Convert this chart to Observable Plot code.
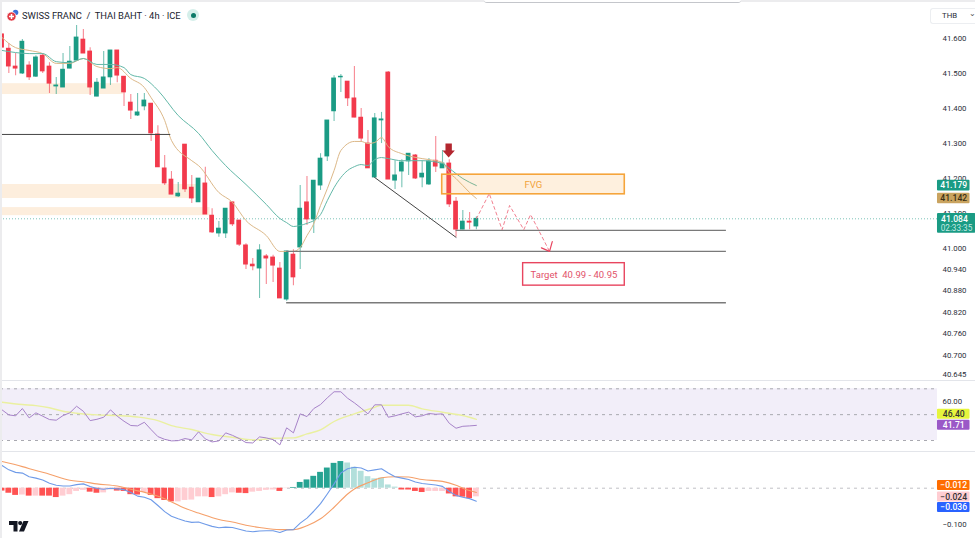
<!DOCTYPE html>
<html><head><meta charset="utf-8">
<script src="https://cdn.jsdelivr.net/npm/d3@7"></script>
<script src="https://cdn.jsdelivr.net/npm/@observablehq/plot@0.6"></script>
<style>
html,body{margin:0;padding:0;background:#fff;width:975px;height:538px;overflow:hidden;font-family:Roboto,sans-serif}
.pane{position:absolute;left:0}
.pane svg{display:block;overflow:visible;background:transparent}
#topband{position:absolute;left:0;top:0;width:975px;height:2px;background:#ececee}
#tab{position:absolute;left:484px;top:0;width:257px;height:2px;background:#fff;border-bottom:1px solid #c4c6cb;border-radius:0 0 3px 3px}
#leftband{position:absolute;left:0;top:0;width:1.5px;height:538px;background:#ececee}
.sep{position:absolute;left:0;width:975px;height:1px;background:#e3e5ea}
#title{position:absolute;left:22px;top:8.5px;font-size:9.4px;line-height:13px;color:#20242f;white-space:pre}
#flag{position:absolute;left:6px;top:9px}
#dot{position:absolute;left:187px;top:9px;width:12px;height:12px;border-radius:6px;background:#d5efea}
#dot:after{content:"";position:absolute;left:3.5px;top:3.5px;width:5px;height:5px;border-radius:3px;background:#0b7a68}
#thb{position:absolute;left:930px;top:7.5px;width:45px;height:16px;border:1px solid #eceef1;border-right:0;box-sizing:border-box;border-radius:3px 0 0 3px;font-size:7.8px;line-height:14px;color:#2a2e39;padding-left:11px}
#thb:after{content:"⌄";position:absolute;left:38px;top:-2px;font-size:8px;color:#555}
#logo{position:absolute;left:9px;top:521px}
</style></head><body>
<div id="main" class="pane" style="top:0"></div>
<div id="rsi" class="pane" style="top:381px"></div>
<div id="macd" class="pane" style="top:452px"></div>
<div class="sep" style="top:380px"></div>
<div class="sep" style="top:451px"></div>
<div id="topband"></div><div id="tab"></div><div id="leftband"></div>
<svg id="flag" width="14" height="14" viewBox="0 0 14 14"><circle cx="9.5" cy="3.5" r="2.8" fill="#3b6fd8"/><circle cx="5.5" cy="7.5" r="4.6" fill="#e23b46" stroke="#fff" stroke-width=".8"/><path d="M5.5 5v5M3 7.5h5" stroke="#fff" stroke-width="1.5"/></svg>
<div id="title">SWISS FRANC  /  THAI BAHT · 4h · ICE</div>
<div id="dot"></div>
<div id="thb">THB</div>
<svg id="logo" width="20" height="11" viewBox="0 0 20 11"><path d="M0 0h8.5v10.5h-4V4H0zM10 10.5L14.5 0H19.5L15 10.5z" fill="#131722"/><circle cx="11.2" cy="2.1" r="2.1" fill="#131722"/></svg>

<script>
// ---------- candles (71 bars of 4h) ----------
const open=[41.611,41.570,41.519,41.499,41.522,41.490,41.550,41.519,41.462,41.459,41.513,41.536,41.596,41.562,41.433,41.456,41.488,41.565,41.490,41.416,41.379,41.405,41.413,41.325,41.228,41.196,41.148,41.296,41.173,41.131,41.185,41.093,41.042,41.042,41.131,41.079,41.008,40.954,40.943,40.977,40.974,40.943,40.856,40.982,41.002,41.131,41.082,41.179,41.262,41.391,41.488,41.476,41.428,41.373,41.299,41.202,41.365,41.502,41.193,41.219,41.248,41.265,41.202,41.182,41.250,41.228,41.242,41.133,41.053,41.076,41.062];
const close=[41.573,41.519,41.513,41.590,41.488,41.545,41.505,41.470,41.465,41.510,41.533,41.602,41.556,41.459,41.473,41.488,41.565,41.493,41.445,41.393,41.388,41.422,41.328,41.231,41.185,41.153,41.156,41.168,41.142,41.199,41.096,41.045,41.056,41.113,41.068,41.010,40.954,40.949,40.994,40.971,40.951,40.859,40.991,40.918,41.113,41.082,41.193,41.256,41.365,41.485,41.490,41.428,41.373,41.313,41.228,41.371,41.368,41.196,41.208,41.245,41.270,41.199,41.213,41.248,41.233,41.242,41.125,41.053,41.076,41.073,41.084];
const high=[41.611,41.585,41.556,41.596,41.533,41.550,41.556,41.530,41.488,41.556,41.576,41.636,41.625,41.573,41.485,41.562,41.565,41.565,41.490,41.439,41.442,41.442,41.413,41.350,41.265,41.219,41.188,41.296,41.208,41.199,41.231,41.113,41.076,41.113,41.131,41.079,41.013,40.971,41.010,40.982,40.980,40.960,40.991,40.996,41.179,41.205,41.193,41.270,41.365,41.493,41.496,41.476,41.519,41.399,41.336,41.385,41.388,41.505,41.250,41.253,41.270,41.268,41.250,41.256,41.319,41.279,41.253,41.145,41.108,41.102,41.090];
const low=[41.573,41.499,41.493,41.496,41.479,41.488,41.499,41.442,41.439,41.459,41.513,41.536,41.556,41.436,41.433,41.456,41.465,41.473,41.405,41.368,41.376,41.393,41.305,41.231,41.179,41.153,41.145,41.159,41.128,41.131,41.096,41.042,41.031,41.028,41.062,41.005,40.940,40.937,40.859,40.898,40.904,40.859,40.851,40.895,40.940,41.065,41.042,41.165,41.248,41.362,41.445,41.405,41.373,41.302,41.228,41.199,41.299,41.196,41.168,41.173,41.208,41.196,41.173,41.179,41.216,41.228,41.116,41.031,41.053,41.053,41.053];

// ---------- moving averages ----------
const fastBars=[0,2,4,6,8,10,12,14,16,17,19,21,22,24,25,28,29,32,34,36,39,41,43,44,45,46,47,48,49,50,52,53,54,55,56,57,59,62,64,65,66,67,69,70];
const fastVals=[41.602,41.573,41.565,41.556,41.528,41.528,41.542,41.519,41.513,41.516,41.485,41.459,41.430,41.365,41.308,41.250,41.236,41.159,41.131,41.079,41.036,40.991,40.991,41.002,41.036,41.070,41.122,41.170,41.222,41.279,41.305,41.305,41.299,41.302,41.316,41.290,41.270,41.256,41.250,41.245,41.216,41.199,41.159,41.142];
const slowBars=[0,2,4,6,8,10,12,14,16,18,19,21,23,26,29,31,33,36,39,41,42,43,44,45,46,47,48,49,50,51,52,53,54,55,56,57,59,62,65,66,68,70];
const slowVals=[41.565,41.559,41.556,41.556,41.533,41.530,41.542,41.525,41.525,41.516,41.496,41.485,41.451,41.379,41.328,41.279,41.236,41.182,41.125,41.085,41.073,41.062,41.065,41.071,41.079,41.096,41.136,41.173,41.202,41.222,41.233,41.239,41.236,41.253,41.259,41.256,41.250,41.250,41.242,41.228,41.199,41.179];

// ---------- price-axis ticks ----------
const priceTicks=[41.6,41.5,41.4,41.3,41.2,41.1,41.0,40.94,40.88,40.82,40.76,40.70,40.645];
const rsiTicks=[60];
const macdTicks=[-0.1];

// ---------- RSI pane ----------
const rsi=[53.7,49.8,49.1,54.7,47.5,51.4,48.8,46.2,45.7,49.3,51.4,56.5,52.6,45.4,46.4,48,53.7,48.8,44.9,41.6,41.3,44.1,38.4,33,30.9,29.7,29.9,31.5,30.5,36.7,31.2,28.9,29.7,35.9,34,31.5,28.4,28.1,32.8,32,30.7,26.6,39.8,35.9,50.6,48.5,54.7,57.8,63,67.7,67.7,62.7,59.1,55,50.6,57.6,57.6,48,49.1,50.6,51.9,48.3,49.1,50.9,50.3,50.6,43.3,39.5,41,41.3,41.71];
const rsiMaBars=[0,3,5,7,9,11,14,17,20,23,25,28,31,34,37,38,40,43,45,47,49,52,55,56,60,62,65,68,70];
const rsiMaVals=[59.6,57.8,57,55.3,52.6,51.1,49.8,49.3,48.2,45.4,41.5,38.5,34.6,32.5,30.5,30.7,31.7,32,35.1,38.2,44.7,50.6,55.7,57.3,57.3,54.5,51.9,49.3,46.4];
const rsiLevels=[70,50,30];

// ---------- MACD pane ----------
const macd=[.063,.051,.044,.042,.032,.028,.023,.014,.008,.006,.006,.010,.012,.005,-.001,-.003,0,-.002,-.004,-.012,-.022,-.025,-.032,-.048,-.065,-.078,-.085,-.091,-.095,-.094,-.100,-.106,-.110,-.108,-.109,-.114,-.119,-.121,-.119,-.118,-.118,-.123,-.116,-.115,-.097,-.083,-.064,-.043,-.016,.012,.042,.054,.058,.056,.048,.051,.054,.042,.032,.028,.024,.017,.013,.011,.009,.005,-.009,-.020,-.025,-.029,-.036];
const signalBars=[0,3,5,7,10,12,14,17,19,22,24,27,29,32,34,36,38,41,43,45,47,49,51,52,54,56,58,60,62,65,67,68,70];
const signalVals=[.074,.060,.049,.039,.022,.018,.012,.006,-.003,-.016,-.029,-.056,-.069,-.087,-.094,-.103,-.109,-.115,-.115,-.104,-.085,-.053,-.016,-.002,.015,.029,.032,.031,.024,.019,.008,0,-.012];
const hist=[-.008,-.014,-.020,-.019,-.022,-.022,-.022,-.022,-.026,-.022,-.018,-.009,-.006,-.011,-.014,-.013,-.005,-.008,-.009,-.018,-.019,-.012,-.020,-.029,-.034,-.038,-.038,-.034,-.033,-.024,-.024,-.026,-.024,-.018,-.013,-.014,-.015,-.011,-.009,-.006,-.005,-.009,-.001,.002,.016,.023,.033,.044,.056,.069,.074,.070,.058,.047,.032,.026,.028,.009,.003,-.005,-.005,-.009,-.012,-.009,-.009,-.009,-.016,-.024,-.025,-.029,-.024];
const histStrong=[1,1,1,0,1,0,1,1,1,0,0,0,0,1,1,0,0,1,1,1,1,0,1,1,1,1,0,0,0,0,0,1,0,0,0,1,1,0,0,0,0,1,0,1,1,1,1,1,1,1,1,0,0,0,0,0,0,0,0,1,1,1,1,0,0,0,1,1,1,1,0];

// ---------- annotations ----------
const fvgBars=[64.96,91.9], fvgPrices=[41.154,41.210];
const supplyZones=[{to:17.9,a:41.439,b:41.470},{to:29,a:41.142,b:41.182},{to:30.7,a:41.093,b:41.116}];
const levelLines=[{from:-0.2,to:24.9,p:41.325,c:"#444",w:1},{from:67,to:106.9,p:41.051,c:"#7a7a7a",w:1.3},{from:42,to:106.9,p:40.991,c:"#7a7a7a",w:1.3},{from:42,to:106.9,p:40.847,c:"#7a7a7a",w:1.3}];
const trendBars=[55,67], trendPrices=[41.202,41.031];
const zigBars=[70,71.9,73.8,74.9,77,78,80.8], zigPrices=[41.084,41.156,41.053,41.122,41.053,41.096,40.991];
const headBars=[79.6,80.8,81.2], headPrices=[41.001,40.991,41.019];
const markerBars=[65.44,65.44,65.0,65.91,66.82,66.38,66.38], markerPrices=[41.299,41.279,41.279,41.259,41.279,41.279,41.299];
const targetBars=[76.9,91.9], targetPrices=[40.895,40.958];

const AX=[-0.229,138.79], AR=[0,942];
const up="#1a9b84", dn="#f23a4c";
const bars=d3.range(open.length);
const tagL=138.05,tagR=142.85,tagM=140.45;
const base={width:975,marginLeft:0,marginRight:33,marginTop:0,marginBottom:0,
  x:{domain:AX,range:AR,axis:null},style:{fontFamily:"Roboto, sans-serif",overflow:"visible"}};

// tag helper: rectangle + text centred on a scale value
function tag(v,h,fill,txt,label,r){
  return [Plot.rect([v],{x1:tagL,x2:r||tagR,y1:d=>d-h/2,y2:d=>d+h/2,fill:fill,rx:1}),
          Plot.text([v],{x:r?(tagL+r)/2:tagM,y:d=>d,text:()=>label,fill:txt,fontSize:8.6,fontWeight:500})];
}

const main=Plot.plot({...base,height:380,
  y:{type:"linear",domain:[40.645,41,41.6],range:[374.3,247.7,37.7],axis:null},
  marks:[
    Plot.axisY({anchor:"right",ticks:priceTicks,tickSize:0,tickPadding:0,tickFormat:d3.format(".3f"),fontSize:7.8,fill:"#2a2e39",label:null,textAnchor:"start"}),
    Plot.rect(supplyZones,{x1:-0.2,x2:"to",y1:"a",y2:"b",fill:"#fdeedd"}),
    Plot.ruleY([41.084],{x1:AX[0],x2:AX[1],stroke:"#7cc4b8",strokeDasharray:"1,2",strokeWidth:1}),
    Plot.ruleX(bars,{x:i=>i,y1:i=>low[i],y2:i=>high[i],stroke:i=>close[i]>=open[i]?up:dn,strokeWidth:1.1,strokeOpacity:.6}),
    Plot.rect(bars,{x1:i=>i-.35,x2:i=>i+.35,y1:i=>open[i],y2:i=>close[i],fill:i=>close[i]>=open[i]?up:dn,insetTop:-.4,insetBottom:-.4}),
    Plot.line(fastVals,{x:(d,i)=>fastBars[i],y:d=>d,stroke:"#dcb888",strokeWidth:1,curve:"monotone-x"}),
    Plot.line(slowVals,{x:(d,i)=>slowBars[i],y:d=>d,stroke:"#63b8a8",strokeWidth:1,curve:"monotone-x"}),
    Plot.ruleY(levelLines,{x1:"from",x2:"to",y:"p",stroke:"c",strokeWidth:"w"}),
    Plot.line(trendPrices,{x:(d,i)=>trendBars[i],y:d=>d,stroke:"#444",strokeWidth:1}),
    Plot.rect([0],{x1:fvgBars[0],x2:fvgBars[1],y1:fvgPrices[0],y2:fvgPrices[1],fill:"#f7a63a",fillOpacity:.17}),
    Plot.rect([0],{x1:fvgBars[0],x2:fvgBars[1],y1:fvgPrices[0],y2:fvgPrices[1],fill:"none",stroke:"#f5a53c",strokeWidth:1.6}),
    Plot.text(["FVG"],{x:78.4,y:41.182,text:d=>d,fill:"#f2a33a",fontSize:9.5}),
    Plot.line(zigPrices,{x:(d,i)=>zigBars[i],y:d=>d,stroke:"#ef6a7d",strokeWidth:1,strokeDasharray:"3,3",strokeOpacity:.85}),
    Plot.line(headPrices,{x:(d,i)=>headBars[i],y:d=>d,stroke:"#e8455f",strokeWidth:1.2}),
    Plot.line(markerPrices,{x:(d,i)=>markerBars[i],y:d=>d,fill:"#b3262f",stroke:"none"}),
    Plot.rect([0],{x1:targetBars[0],x2:targetBars[1],y1:targetPrices[0],y2:targetPrices[1],fill:"#fff",stroke:"#e8455f",strokeWidth:1.4}),
    Plot.text(["Target  40.99 - 40.95"],{x:84.4,y:40.926,text:d=>d,fill:"#e2526a",fontSize:9.5,whiteSpace:"pre"}),
    ...tag(41.179,.0306,"#1a9b84","#fff","41.179"),
    ...tag(41.142,.0306,"#c9a35f","#3a2f14","41.142"),
    Plot.rect([41.084],{x1:tagL,x2:143.7,y1:41.099,y2:41.043,fill:"#1a9b84",rx:1}),
    Plot.text(["41.084"],{x:tagM+.1,y:41.084,text:d=>d,fill:"#fff",fontSize:8.6,fontWeight:500}),
    Plot.text(["02:33:35"],{x:tagM+.4,y:41.058,text:d=>d,fill:"#c4e9e2",fontSize:8.2})
  ]});
document.getElementById("main").append(main);

const rsiPlot=Plot.plot({...base,height:70,
  y:{domain:[30,70],range:[59,7.3],axis:null},
  marks:[
    Plot.axisY({anchor:"right",ticks:rsiTicks,tickSize:0,tickPadding:0,tickFormat:d3.format(".2f"),fontSize:7.8,fill:"#2a2e39",label:null,textAnchor:"start"}),
    Plot.rect([0],{x1:AX[0],x2:tagL,y1:30,y2:70,fill:"#7e57c2",fillOpacity:.1}),
    Plot.ruleY(rsiLevels,{x1:AX[0],x2:tagL,stroke:"#a9a9b0",strokeDasharray:"3,4",strokeWidth:1}),
    Plot.line(rsiMaVals,{x:(d,i)=>rsiMaBars[i],y:d=>d,stroke:"#eaf0a0",strokeWidth:1.4,curve:"monotone-x"}),
    Plot.line(rsi,{x:(d,i)=>i,y:d=>d,stroke:"#a783c9",strokeWidth:1}),
    ...tag(50.3,7.75,"#e6f53d","#333","46.40"),
    ...tag(41.8,7.75,"#9b59c7","#fff","41.71")
  ]});
document.getElementById("rsi").append(rsiPlot);

const macdPlot=Plot.plot({...base,height:86,
  y:{domain:[0,-0.1],range:[35.7,71.7],axis:null},
  marks:[
    Plot.axisY({anchor:"right",ticks:macdTicks,tickSize:0,tickPadding:0,tickFormat:d=>d3.format(".3f")(d).replace("-","−"),fontSize:7.8,fill:"#2a2e39",label:null,textAnchor:"start"}),
    Plot.ruleY([0],{x1:AX[0],x2:tagL,stroke:"#c0c0c6",strokeDasharray:"3,4",strokeWidth:1}),
    Plot.rect(hist,{x1:(d,i)=>i-.43,x2:(d,i)=>i+.43,y1:0,y2:d=>d,fill:(d,i)=>d>=0?(histStrong[i]?"#26a392":"#b2dfdb"):(histStrong[i]?"#ff5252":"#ffcdd2")}),
    Plot.line(signalVals,{x:(d,i)=>signalBars[i],y:d=>d,stroke:"#f5a06a",strokeWidth:1.1,curve:"monotone-x"}),
    Plot.line(macd,{x:(d,i)=>i,y:d=>d,stroke:"#6f9be8",strokeWidth:1.1}),
    ...tag(.0075,.0278,"#ff6d00","#fff","−0.012"),
    ...tag(-.0245,.0278,"#ffcdd2","#333","−0.024"),
    ...tag(-.0535,.0278,"#2962ff","#fff","−0.036")
  ]});
document.getElementById("macd").append(macdPlot);
</script>
</body></html>
